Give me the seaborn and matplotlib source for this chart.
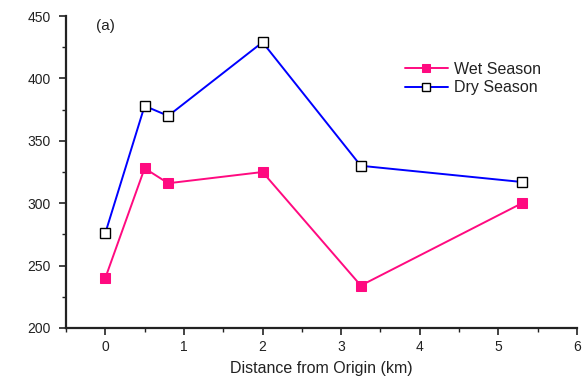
import matplotlib
matplotlib.use("Agg")
import matplotlib.pyplot as plt
from matplotlib.ticker import MultipleLocator
import seaborn as sns
import pandas as pd

distance_km = [0, 0.5, 0.8, 2.0, 3.25, 5.3]
wet_season = [240, 328, 316, 325, 234, 300]
dry_season = [276, 378, 370, 429, 330, 317]

sns.set_theme(style="ticks")
plt.rcParams["font.family"] = ["Liberation Sans", "DejaVu Sans"]

fig = plt.figure(figsize=(5.83, 3.82), dpi=100)
ax = fig.add_axes([0.1132, 0.1414, 0.8765, 0.8166])

wet_df = pd.DataFrame({"x": distance_km, "y": wet_season})
dry_df = pd.DataFrame({"x": distance_km, "y": dry_season})

sns.lineplot(data=wet_df, x="x", y="y", ax=ax, sort=False, color="#ff0a80",
             marker="s", markersize=7, markerfacecolor="#ff0a80",
             markeredgecolor="#ff0a80", linewidth=1.4, label="Wet Season")
sns.lineplot(data=dry_df, x="x", y="y", ax=ax, sort=False, color="#0000ff",
             marker="s", markersize=7, markerfacecolor="white",
             markeredgecolor="black", markeredgewidth=1.0, linewidth=1.4,
             label="Dry Season")

ax.set_xlim(-0.5, 6)
ax.set_ylim(200, 450)
ax.xaxis.set_major_locator(MultipleLocator(1))
ax.xaxis.set_minor_locator(MultipleLocator(0.5))
ax.yaxis.set_major_locator(MultipleLocator(50))
ax.yaxis.set_minor_locator(MultipleLocator(25))

for side in ("top", "right"):
    ax.spines[side].set_visible(False)
for side in ("left", "bottom"):
    ax.spines[side].set_linewidth(1.6)
    ax.spines[side].set_color("#222222")

ax.tick_params(which="major", direction="out", length=5, width=1.2,
               colors="#222222", labelsize=10, labelcolor="#222222")
ax.tick_params(axis="y", which="major", pad=6)
ax.tick_params(which="minor", direction="out", length=3, width=1.0,
               colors="#222222")

ax.set_xlabel("Distance from Origin (km)", fontsize=11.5, color="#222222",
              labelpad=5)
ax.set_ylabel("")

ax.text(0.0, 442, "(a)", fontsize=11, color="#222222", ha="center", va="center")

leg = ax.legend(loc="upper left", bbox_to_anchor=(0.663, 0.853), frameon=False,
                fontsize=11.5, handlelength=2.7, handletextpad=0.4,
                labelspacing=0.22, borderaxespad=0, borderpad=0,
                markerscale=0.8)
for t in leg.get_texts():
    t.set_color("#222222")

fig.savefig("out.png", dpi=100)
